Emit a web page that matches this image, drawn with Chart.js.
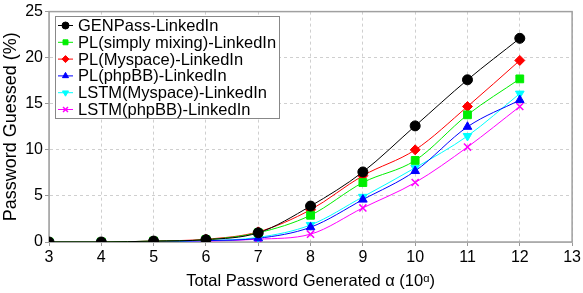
<!DOCTYPE html>
<html>
<head>
<meta charset="utf-8">
<script src="https://cdn.jsdelivr.net/npm/chart.js@4"></script>
<style>
  body { margin: 0; background: #fff; }
  #wrap { width: 583px; height: 293px; }
</style>
</head>
<body>
<div id="wrap"><canvas id="myChart" width="583" height="293"></canvas></div>
<script>
// alpha values (10^alpha passwords generated)
const alphas = [3, 4, 5, 6, 7, 8, 9, 10, 11, 12];

const genpass = [0, 0, 0.1, 0.25, 1.0, 3.9, 7.6, 12.6, 17.6, 22.1];
const plMixing = [0, 0, 0.1, 0.25, 1.0, 2.9, 6.45, 8.85, 13.8, 17.7];
const plMyspace = [0, 0, 0.1, 0.3, 1.1, 3.5, 7.2, 10.0, 14.7, 19.7];
const plPhpbb = [0, 0, 0.05, 0.15, 0.4, 1.6, 4.6, 7.7, 12.5, 15.4];
const lstmMyspace = [0, 0, 0.05, 0.15, 0.5, 1.85, 4.9, 8.05, 11.5, 16.1];
const lstmPhpbb = [0, 0, 0.05, 0.1, 0.3, 0.85, 3.7, 6.45, 10.3, 14.7];

const xTicks = [3, 4, 5, 6, 7, 8, 9, 10, 11, 12, 13];
const yTicks = [0, 5, 10, 15, 20, 25];

const FONT = 'Liberation Sans, Arial, Helvetica, sans-serif';

function toPoints(vals) {
  return vals.map((v, i) => ({ x: alphas[i], y: v }));
}

function makeSet(label, vals, color, style, radius, rot) {
  return {
    label: label,
    data: toPoints(vals),
    borderColor: color,
    backgroundColor: color,
    pointBackgroundColor: color,
    pointBorderColor: color,
    pointStyle: style,
    pointRadius: radius,
    pointRotation: rot || 0,
    pointBorderWidth: style === 'crossRot' ? 1.5 : 1,
    borderWidth: 1,
    cubicInterpolationMode: 'monotone',
    fill: false
  };
}

// legend drawn inside the plot, with a frame like the original
const boxLegend = {
  id: 'boxLegend',
  afterDraw(chart) {
    const ctx = chart.ctx;
    const x0 = 55, y0 = 16, w = 224, h = 102;
    ctx.save();
    ctx.fillStyle = '#fff';
    ctx.fillRect(x0, y0, w, h);
    ctx.strokeStyle = '#888';
    ctx.lineWidth = 1;
    ctx.strokeRect(x0 + 0.5, y0 + 0.5, w, h);
    ctx.font = '16.5px ' + FONT;
    ctx.textBaseline = 'middle';
    chart.data.datasets.forEach((ds, i) => {
      const cy = y0 + 9.5 + i * 16.8;
      ctx.strokeStyle = ds.borderColor;
      ctx.lineWidth = 1;
      ctx.beginPath();
      ctx.moveTo(58, cy);
      ctx.lineTo(73, cy);
      ctx.stroke();
      ctx.fillStyle = ds.borderColor;
      ctx.lineWidth = ds.pointBorderWidth;
      Chart.helpers.drawPoint(ctx, {
        pointStyle: ds.pointStyle,
        radius: 3.5,
        borderWidth: ds.pointBorderWidth,
        rotation: ds.pointRotation
      }, 65.5, cy);
      ctx.fillStyle = '#000';
      ctx.fillText(ds.label, 78, cy + 1);
    });
    ctx.restore();
  }
};

new Chart(document.getElementById('myChart'), {
  type: 'line',
  data: {
    datasets: [
      makeSet('GENPass-LinkedIn', genpass, '#000000', 'circle', 5),
      makeSet('PL(simply mixing)-LinkedIn', plMixing, '#00ee00', 'rect', 5.5),
      makeSet('PL(Myspace)-LinkedIn', plMyspace, '#ff0000', 'rectRot', 5),
      makeSet('PL(phpBB)-LinkedIn', plPhpbb, '#0000ff', 'triangle', 5),
      makeSet('LSTM(Myspace)-LinkedIn', lstmMyspace, '#00ffff', 'triangle', 5, 180),
      makeSet('LSTM(phpBB)-LinkedIn', lstmPhpbb, '#ff00ff', 'crossRot', 5)
    ]
  },
  options: {
    responsive: false,
    animation: false,
    layout: { padding: { top: 10, right: 8, left: 0, bottom: 0 } },
    plugins: {
      legend: { display: false },
      tooltip: { enabled: false }
    },
    scales: {
      x: {
        type: 'linear',
        min: 3,
        max: 13,
        afterBuildTicks(scale) { scale.ticks = xTicks.map(v => ({ value: v })); },
        afterFit(scale) { scale.height = 51; },
        grid: {
          color: '#cfcfcf',
          tickColor: '#999',
          tickLength: 4,
          drawTicks: true
        },
        border: { color: '#cfcfcf', width: 1, dash: [3, 3] },
        ticks: { color: '#000', font: { family: FONT, size: 16 }, padding: 2 },
        title: {
          display: true,
          text: 'Total Password Generated α (10ᵅ)',
          color: '#000',
          font: { family: FONT, size: 16.5 },
          padding: { top: 0, bottom: 2 }
        }
      },
      y: {
        min: 0,
        max: 25,
        afterBuildTicks(scale) { scale.ticks = yTicks.map(v => ({ value: v })); },
        afterFit(scale) { scale.width = 49; },
        grid: {
          color: '#cfcfcf',
          tickColor: '#999',
          tickLength: 4,
          drawTicks: true
        },
        border: { color: '#cfcfcf', width: 1, dash: [3, 3] },
        ticks: { color: '#000', font: { family: FONT, size: 16 }, padding: 2 },
        title: {
          display: true,
          text: 'Password Guessed (%)',
          color: '#000',
          font: { family: FONT, size: 18 },
          padding: { top: 0, bottom: 0 }
        }
      }
    }
  },
  plugins: [{
    id: 'frame',
    beforeDatasetsDraw(chart) {
      const a = chart.chartArea;
      const ctx = chart.ctx;
      ctx.save();
      ctx.strokeStyle = '#a0a0a0';
      ctx.lineWidth = 1.5;
      ctx.strokeRect(a.left, a.top, a.right - a.left, a.bottom - a.top);
      ctx.restore();
    }
  }, boxLegend]
});
</script>
</body>
</html>
